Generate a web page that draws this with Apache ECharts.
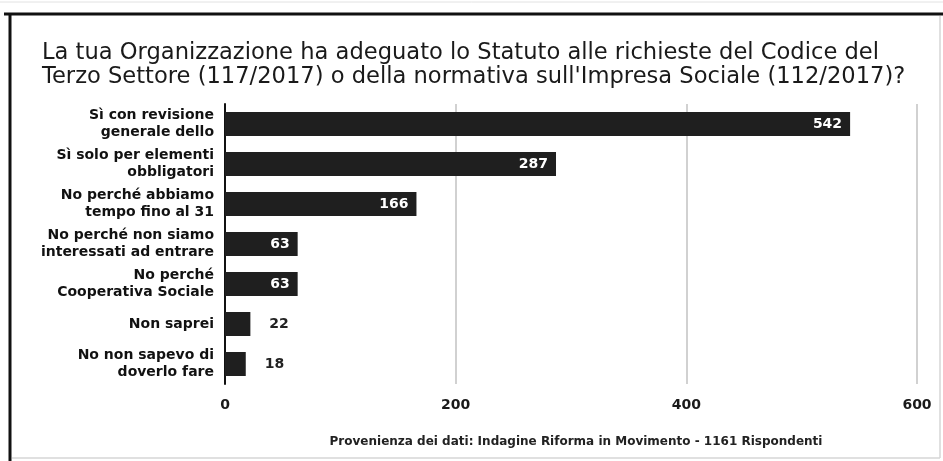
<!DOCTYPE html>
<html>
<head>
<meta charset="utf-8">
<script src="https://cdn.jsdelivr.net/npm/echarts@6/dist/echarts.min.js"></script>
<style>
  html, body { margin: 0; padding: 0; background: #fff; }
  #chart { width: 943px; height: 461px; }
</style>
</head>
<body>
<div id="chart"></div>
<script>
// Survey answers, listed top to bottom
const categories = [
  'Sì con revisione\ngenerale dello',
  'Sì solo per elementi\nobbligatori',
  'No perché abbiamo\ntempo fino al 31',
  'No perché non siamo\ninteressati ad entrare',
  'No perché\nCooperativa Sociale',
  'Non saprei',
  'No non sapevo di\ndoverlo fare'
];
const responses = [542, 287, 166, 63, 63, 22, 18];
const xTicks = [0, 200, 400, 600];

const titleText = "La tua Organizzazione ha adeguato lo Statuto alle richieste del Codice del\nTerzo Settore (117/2017) o della normativa sull'Impresa Sociale (112/2017)?";
const sourceText = 'Provenienza dei dati: Indagine Riforma in Movimento - 1161 Rispondenti';

const FONT = '"DejaVu Sans", "Liberation Sans", Arial, sans-serif';
const BAR = '#1f1f1f';

// short bars get their value printed beside them, long ones inside
const barData = responses.map(v => ({
  value: v,
  label: v >= 40
    ? { position: 'insideRight', distance: 8, color: '#ffffff' }
    : { position: 'right', distance: 19, color: '#222222' }
}));

const chart = echarts.init(document.getElementById('chart'), null, { renderer: 'canvas' });
chart.setOption({
  backgroundColor: '#ffffff',
  animation: false,
  title: [
    {
      text: titleText,
      left: 37,
      top: 36,
      textStyle: { fontFamily: FONT, fontSize: 22.6, fontWeight: 'normal', color: '#1a1a1a', lineHeight: 24 }
    },
    {
      text: sourceText,
      left: 571,
      textAlign: 'center',
      top: 429,
      textStyle: { fontFamily: FONT, fontSize: 12, fontWeight: 'bold', color: '#222', lineHeight: 15 }
    }
  ],
  graphic: [
    { type: 'line', shape: { x1: 0, y1: 2, x2: 943, y2: 2 }, style: { stroke: '#e2e2e2', lineWidth: 1 } },
    { type: 'line', shape: { x1: 4, y1: 14, x2: 943, y2: 14 }, style: { stroke: '#111', lineWidth: 3 } },
    { type: 'line', shape: { x1: 10, y1: 13, x2: 10, y2: 461 }, style: { stroke: '#111', lineWidth: 3 } },
    { type: 'line', shape: { x1: 940, y1: 16, x2: 940, y2: 458 }, style: { stroke: '#d6d6d6', lineWidth: 1.5 } },
    { type: 'line', shape: { x1: 12, y1: 458, x2: 940, y2: 458 }, style: { stroke: '#d6d6d6', lineWidth: 1.5 } }
  ],
  grid: { left: 225, right: 26, top: 104, bottom: 77, containLabel: false },
  xAxis: {
    type: 'value',
    min: xTicks[0],
    max: xTicks[xTicks.length - 1],
    interval: xTicks[1] - xTicks[0],
    axisLine: { show: false },
    axisTick: { show: false },
    splitLine: { show: true, lineStyle: { color: '#c2c2c2', width: 1.5 } },
    axisLabel: { fontFamily: FONT, fontSize: 14, fontWeight: 'bold', color: '#1a1a1a', margin: 14 }
  },
  yAxis: {
    type: 'category',
    data: categories,
    inverse: true,
    axisLine: { show: true, lineStyle: { color: '#111', width: 2 } },
    axisTick: { show: false },
    axisLabel: {
      fontFamily: FONT, fontSize: 14, fontWeight: 'bold', color: '#111',
      lineHeight: 17, margin: 11, align: 'right'
    }
  },
  series: [{
    type: 'bar',
    data: barData,
    barWidth: 24,
    itemStyle: { color: BAR },
    label: { show: true, fontFamily: FONT, fontSize: 14, fontWeight: 'bold' },
    z: 3
  }]
});
</script>
</body>
</html>
